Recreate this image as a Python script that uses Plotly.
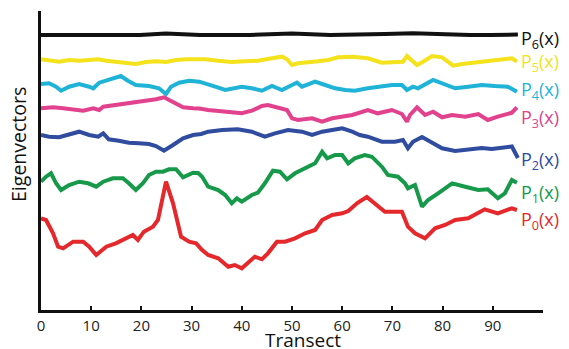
import plotly.graph_objects as go

# ---- data (y in arbitrary eigenvector units) ----
p6_x = [0, 11.8, 19.7, 24.9, 31.7, 41.6, 50, 57.6, 63.5, 68.5, 74.1, 79.5, 85.5, 89.4, 95]
p6_y = [275, 274.5, 275, 276.5, 275, 275, 276.5, 275, 275, 276, 276.7, 275.5, 275, 275, 275.5]

p5_x = [0, 1.6, 3.6, 5.6, 7.6, 9.6, 11.4, 13, 14.9, 16.9, 18.9, 20.9, 22.9, 24.9, 26.9,
        28.9, 31.5, 32.7, 35.3, 38, 40.6, 43.2, 46, 48, 49, 50, 51.2, 53.2, 55.2, 57.2,
        59.2, 62, 65.1, 67.9, 70.5, 72.1, 72.9, 73.9, 74.9, 76.1, 77.9, 79.9, 81.1, 82.1,
        83.9, 86.5, 89, 91.8, 93.8, 94.8]
p5_y = [250.7, 250, 248.3, 250, 249.3, 250, 250.7, 249.3, 248.3, 246.7, 246, 248, 248.7, 248, 250,
        250.7, 251.3, 250.7, 249.3, 248, 248.7, 249.3, 251.7, 253.3, 250.7, 245, 246.7, 247.3, 248.7, 250,
        252.7, 253.3, 251.7, 247.3, 248.3, 248.3, 254, 250, 245, 248.3, 254, 252.7, 248.3, 244.3,
        246, 247.3, 248.3, 250.7, 251.7, 248.3]

p4_x = [0, 1.6, 3, 4, 5.6, 7.6, 9.6, 10.4, 11.6, 13.5, 15.9, 17.3, 18.9, 21.5, 23.5,
        24.9, 25.9, 27.5, 29.5, 31.5, 32.7, 34.7, 36.7, 38.6, 40, 42, 44, 46, 48, 50,
        51, 52, 54.6, 56.6, 58.6, 60.6, 62.5, 65.1, 67.1, 69.9, 71.9, 72.9, 74.1, 75.1, 78.1,
        79.9, 82.5, 85.1, 87.8, 90.4, 93, 94.8]
p4_y = [226, 226.7, 223.3, 219.3, 223.3, 226, 223.3, 221.7, 227.3, 230, 234, 229.3, 225, 224, 221.7,
        216, 223.3, 227.3, 229.3, 228.3, 226.7, 223.3, 220, 221.7, 223.3, 221.7, 219.3, 224, 220, 225,
        227.3, 223.3, 228.3, 225, 221.7, 220, 219.3, 221.7, 223.3, 225, 225, 220, 223.3, 221.7, 230,
        226.7, 221.7, 223.3, 225, 224, 223.3, 218.3]

p3_x = [0, 2.4, 4.4, 6.4, 8.4, 10.4, 11.6, 12.4, 14.9, 17.5, 20.3, 22.9, 24.5, 26.3, 28.3,
        30.3, 31.5, 33.3, 36.7, 40, 42, 44, 45.2, 47.2, 49, 50, 51.2, 54, 56, 58,
        60, 62, 65.1, 67.1, 69.9, 71.9, 72.9, 73.5, 74.9, 76.5, 78.1, 79.9, 81.9, 84.5,
        87.1, 89, 91, 93.8, 94.8]
p3_y = [201.7, 202.7, 201.7, 200.7, 199.3, 201.7, 200, 203.3, 205, 206.7, 208.3, 210.7, 212.7, 208.3, 202.7,
        201.7, 201.5, 200, 198.3, 196.7, 199.3, 204, 205, 202.7, 200, 191.7, 190, 191.7, 188.3, 191.7,
        193.3, 195, 200, 196.7, 200, 196, 188.3, 195, 202.7, 195, 198.3, 192.7, 195, 193.3,
        196, 190, 193.3, 197.3, 202.7]

p2_x = [0, 1.6, 3.6, 5.6, 7.6, 9.6, 11.4, 12.4, 13.5, 15.5, 17.5, 19.5, 21.5, 22.9, 24.5,
        26.3, 28.3, 30.3, 31.9, 33.3, 36.1, 39.2, 42, 44.6, 46.6, 49.2, 52, 54, 56, 58,
        60, 62, 63.5, 65.1, 67.9, 70.5, 72.1, 73.1, 74.1, 75.9, 77.9, 79.9, 82.5, 85.1, 87.8,
        89.8, 91.8, 93.8, 95]
p2_y = [175, 173.3, 172.7, 175, 178.3, 175, 173.3, 176.7, 170.7, 169.3, 167.3, 166.7, 166, 164, 159.3,
        165, 171.7, 175, 176, 178.3, 180, 180.7, 178.3, 173.3, 176.7, 180, 178.3, 175, 178.3, 180,
        181.7, 178.3, 175, 173.3, 168.3, 168.3, 170, 161.7, 168.3, 173, 167.3, 161.7, 159, 160, 162,
        161, 162.5, 163.5, 152]

p1_x = [0, 1, 2, 3, 4, 5.6, 7.6, 9.4, 11, 12.4, 14.3, 16.3, 17.5, 18.9, 20.3,
        21.5, 22.9, 24.3, 25.5, 26.9, 28.3, 30.3, 31.3, 32.1, 33.3, 35.3, 36.7, 38, 39, 40,
        42, 43.2, 44.6, 46.2, 47.6, 49, 50.6, 52.6, 54.6, 56, 57, 58.6, 60, 61.2, 62.5,
        64.5, 65.9, 67.9, 69.1, 71.1, 72.5, 73.1, 74.5, 75.9, 77.1, 79.1, 81.9, 84.5, 87.1, 89,
        91, 92.4, 93.8, 94.8]
p1_y = [128.3, 133.3, 136.7, 126.7, 120, 125, 128.3, 126.7, 123.3, 128.3, 131.7, 131.7, 126.7, 120, 126.7,
        135, 138.3, 138.3, 140.7, 140.7, 132.7, 137.3, 137, 133.3, 123.3, 120, 115, 106.7, 111.7, 108.3,
        115, 117.3, 126.7, 139.3, 138.3, 130.7, 136.7, 141.7, 146.7, 158.3, 151.7, 155, 155, 146.7, 151.7,
        155, 153.3, 143.3, 135, 133.3, 126.7, 121.7, 125, 103.3, 110, 116.7, 126.7, 123.3, 120, 120.7,
        111.7, 116.7, 130, 127.3]

p0_x = [0, 1, 2.4, 3.4, 4.4, 6.4, 8.4, 9.6, 11, 13, 14.9, 16.9, 18.3, 19.3, 20.5,
        22.3, 23.3, 24.9, 26.3, 27.9, 29.5, 30.9, 32.1, 33.3, 35.3, 37.3, 38.6, 40, 41.2, 42.6,
        44, 45.2, 47, 48.6, 50.6, 52.6, 54.6, 56, 58, 60, 61.2, 63, 64.9, 67.1, 68.5,
        71.9, 73.1, 74.5, 76.5, 78.5, 80.5, 82.5, 85.1, 88.4, 91, 93.8, 94.8]
p0_y = [91.7, 90, 76.7, 63.3, 61.7, 68.3, 68.3, 63.3, 55, 63.3, 66.7, 71.7, 75, 70, 78.3,
        83.3, 90, 128.3, 106.7, 73.3, 68.3, 66.7, 60, 55, 51.7, 43.3, 45, 41.7, 46.7, 53.3,
        50.7, 56.7, 68.3, 68.3, 71.7, 76.7, 80, 90, 95, 96.7, 99, 107, 113, 103.3, 98.3,
        98.3, 83.3, 76.7, 71.7, 81.7, 85, 90, 91.7, 100.7, 96.7, 101.7, 100]

series_names = ["P<sub>6</sub>(x)", "P<sub>5</sub>(x)", "P<sub>4</sub>(x)", "P<sub>3</sub>(x)",
                "P<sub>2</sub>(x)", "P<sub>1</sub>(x)", "P<sub>0</sub>(x)"]
label_y = [271, 248, 220, 192, 150, 117, 90]
x_ticks = [0, 10, 20, 30, 40, 50, 60, 70, 80, 90, 100]
x_tick_text = ["0", "10", "20", "30", "40", "50", "60", "70", "80", "90", ""]

colors = ["#111111", "#f3e21c", "#1fb3d8", "#e2418d", "#2f4c9f", "#17994a", "#e4282b"]
xs = [p6_x, p5_x, p4_x, p3_x, p2_x, p1_x, p0_x]
ys = [p6_y, p5_y, p4_y, p3_y, p2_y, p1_y, p0_y]

FONT = "Open Sans"

fig = go.Figure()
for x, y, c, n in zip(xs, ys, colors, series_names):
    fig.add_trace(go.Scatter(x=x, y=y, mode="lines", name=n,
                             line=dict(color=c, width=4), showlegend=False,
                             hoverinfo="skip"))

annotations = []
for n, c, ly in zip(series_names, colors, label_y):
    annotations.append(dict(x=95.3, y=ly, xref="x", yref="y", text=n, showarrow=False,
                            xanchor="left", yanchor="middle",
                            font=dict(family=FONT, size=18, color=c)))
annotations.append(dict(x=0.522, y=-0.1, xref="paper", yref="paper", text="Transect",
                        showarrow=False, xanchor="center", yanchor="middle",
                        font=dict(family=FONT, size=19, color="#111111")))
annotations.append(dict(x=-0.046, y=0.555, xref="paper", yref="paper", text="Eigenvectors",
                        showarrow=False, xanchor="center", yanchor="middle", textangle=-90,
                        font=dict(family=FONT, size=19.5, color="#111111")))

fig.update_layout(
    width=569, height=349,
    margin=dict(l=41, r=26, t=11, b=39),
    paper_bgcolor="white", plot_bgcolor="white",
    annotations=annotations,
    xaxis=dict(range=[0, 100], showgrid=False, zeroline=False,
               showline=True, linecolor="#111111", linewidth=3,
               tickmode="array", tickvals=x_ticks, ticktext=x_tick_text,
               ticks="inside", ticklen=4, tickwidth=2, tickcolor="#111111",
               tickfont=dict(family=FONT, size=15, color="#222222")),
    yaxis=dict(range=[0, 299], showgrid=False, zeroline=False,
               showline=True, linecolor="#111111", linewidth=3,
               showticklabels=False, ticks=""),
)

fig.write_html("out.html")
